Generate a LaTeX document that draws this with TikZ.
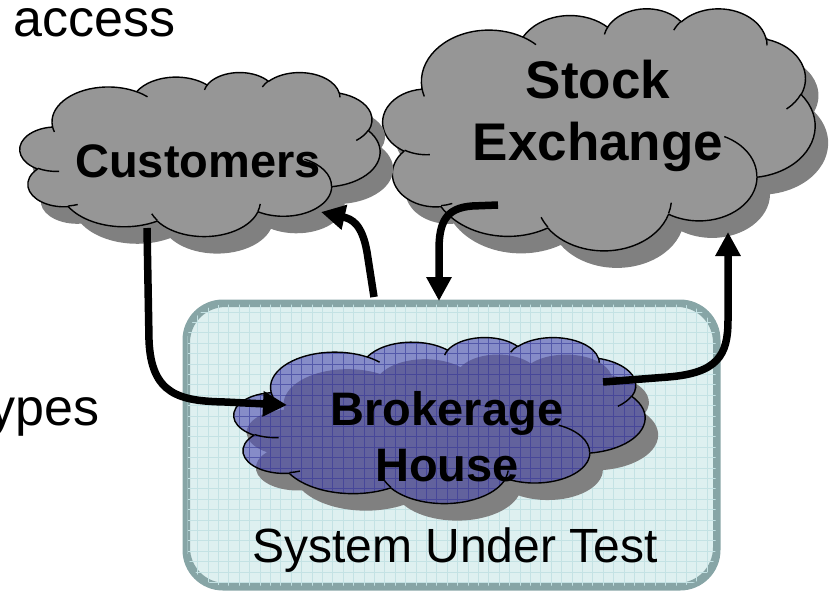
\documentclass[tikz,border=0pt]{standalone}
\usepackage{fontspec}
\setmainfont{Liberation Sans}
\usetikzlibrary{arrows.meta}

\definecolor{cloudgray}{RGB}{150,150,150}
\definecolor{shadowgray}{RGB}{128,128,128}
\definecolor{boxfill}{RGB}{222,240,240}
\definecolor{boxgrid}{RGB}{196,226,228}
\definecolor{boxborder}{RGB}{135,165,166}
\definecolor{brokerblue}{RGB}{80,80,176}
\definecolor{brokergrid}{RGB}{50,50,150}

% Cloud outline in a 432 x 432 frame (y pointing down)
\newcommand{\CloudOutline}{(39.00,143.70)
  arc[start angle=-187.746, end angle=-59.637, x radius=67.53, y radius=91.90]
  arc[start angle=-152.03,  end angle=-45.457, x radius=53.33, y radius=72.67]
  arc[start angle=-153.487, end angle=-37.330, x radius=43.65, y radius=59.45]
  arc[start angle=-139.702, end angle=-10.212, x radius=48.57, y radius=65.95]
  arc[start angle=-74.768,  end angle=23.212,  x radius=53.33, y radius=72.73]
  arc[start angle=-37.527,  end angle=81.863,  x radius=67.75, y radius=92.20]
  arc[start angle=0.4596,   end angle=121.981, x radius=57.85, y radius=78.67]
  arc[start angle=16.844,   end angle=146.243, x radius=67.52, y radius=92.15]
  arc[start angle=58.984,   end angle=150.199, x radius=77.20, y radius=105.43]
  arc[start angle=-276.694, end angle=-136.901, x radius=43.60, y radius=59.18]
  arc[start angle=-239.642, end angle=-95.888, x radius=43.45, y radius=59.45]
  -- cycle}
% Short strokes inside the cloud where the puffs meet
\newcommand{\CloudInner}{
  (46.93,261.77) arc[start angle=85.545, end angle=120.358, x radius=43.45, y radius=59.45]
  (69.28,348.99) arc[start angle=68.236, end angle=83.306, x radius=43.60, y radius=59.18]
  (164.78,390.90) arc[start angle=146.243, end angle=158.473, x radius=67.52, y radius=92.15]
  (288.27,347.51) arc[start angle=4.738, end angle=16.844, x radius=67.52, y radius=92.15]
  (341.29,229.54) arc[start angle=-64.030, end angle=0.4596, x radius=57.85, y radius=78.67]
  (417.98,153.54) arc[start angle=23.212, end angle=49.642, x radius=53.33, y radius=72.73]
  (383.24,54.26) arc[start angle=-10.212, end angle=0.821, x radius=48.57, y radius=65.95]
  (290.78,39.52) arc[start angle=-156.286, end angle=-139.702, x radius=48.57, y radius=65.95]
  (221.41,47.20) arc[start angle=-167.727, end angle=-153.487, x radius=43.65, y radius=59.45]
  (140.00,51.92) arc[start angle=-59.637, end angle=-45.737, x radius=67.53, y radius=91.90]
  (41.27,157.89) arc[start angle=163.194, end angle=172.254, x radius=67.53, y radius=91.90]}

\begin{document}
\begin{tikzpicture}[x=1pt, y=1pt, yscale=-1,
  cloudframe/.style n args={4}{shift={(#1,#2)}, xscale=#3/432, yscale=#4/432},
  shadowshift/.style={shift={(13,17)}},
  cloudline/.style={draw=black, line width=1.4pt, line join=round},
  label/.style={inner sep=0pt, text=black},
  arr/.style={line width=7.5pt, -{Triangle[length=24pt,width=24pt]}}]

\useasboundingbox (0,0) rectangle (838,590);
\clip (0,0) rectangle (838,590);

% ---- leftover slide text
\node[label, anchor=base west, font=\fontsize{52}{60}\selectfont] (access) at (13,36) {access};
\node[label, anchor=base east, font=\fontsize{52}{60}\selectfont] (types) at (100,425) {types};

% ---- Stock Exchange cloud
\fill[shadowgray, shadowshift, cloudframe={383}{8}{432}{242}] \CloudOutline;
\filldraw[fill=cloudgray, cloudline, cloudframe={383}{8}{432}{242}] \CloudOutline;
\draw[cloudline, cloudframe={383}{8}{432}{242}] \CloudInner;
\node[label, align=center, font=\bfseries\fontsize{53}{62}\selectfont] (exchange) at (598,116) {Stock\\Exchange};

% ---- Customers cloud
\fill[shadowgray, shadowshift, cloudframe={20}{72}{360}{164}] \CloudOutline;
\filldraw[fill=cloudgray, cloudline, cloudframe={20}{72}{360}{164}] \CloudOutline;
\draw[cloudline, cloudframe={20}{72}{360}{164}] \CloudInner;
\node[label, anchor=base, font=\bfseries\fontsize{47}{56}\selectfont] (customers) at (198,177) {Customers};

% ---- System under test frame with its grid fill
\node[draw=boxborder, fill=boxfill, line width=5pt, rounded corners=38pt,
      minimum width=528pt, minimum height=281pt, inner sep=0pt] (sutbox) at (451.5,445) {};
\begin{scope}
  \clip[rounded corners=36pt] (sutbox.south west) rectangle (sutbox.north east);
  \draw[boxgrid, line width=0.8pt, step=10.4] (180,300) grid (720,590);
\end{scope}
\draw[boxborder, line width=5pt, rounded corners=38pt] (sutbox.south west) rectangle (sutbox.north east);

% ---- Brokerage House cloud (translucent, patterned)
\fill[shadowgray, shadowshift, cloudframe={234}{337}{411}{166}] \CloudOutline;
\fill[brokerblue, opacity=0.62, cloudframe={234}{337}{411}{166}] \CloudOutline;
\begin{scope}
  \clip[cloudframe={234}{337}{411}{166}] \CloudOutline;
  \draw[brokergrid, opacity=0.55, line width=0.7pt, step=10.4] (180,300) grid (720,590);
\end{scope}
\draw[cloudline, cloudframe={234}{337}{411}{166}] \CloudOutline;
\draw[cloudline, cloudframe={234}{337}{411}{166}] \CloudInner;
\node[label, align=center, font=\bfseries\fontsize{47}{56}\selectfont] (broker) at (447,437) {Brokerage\\House};

\node[label, anchor=base, font=\fontsize{48}{56}\selectfont] (sut) at (455,562) {System Under Test};

% ---- message flows
\coordinate (a1s) at (147,228);
\coordinate (a1e) at (287,405);
\coordinate (a2s) at (374,297);
\coordinate (a2e) at (321,212);
\coordinate (a3s) at (498,205);
\coordinate (a3e) at (439,301);
\coordinate (a4s) at (603,382);
\coordinate (a4e) at (728,232);

\draw[arr] (a1s) -- (149,340) .. controls (151,395) and (180,401) .. (225,402) -- (a1e);
\draw[arr] (a2s) -- (367,252) .. controls (362,224) and (352,219) .. (a2e);
\draw[arr] (a3s) -- (472,206) .. controls (446,208) and (439,222) .. (439,250) -- (a3e);
\draw[arr] (a4s) -- (668,377) .. controls (718,373) and (728,355) .. (728,320) -- (a4e);
\end{tikzpicture}
\end{document}
